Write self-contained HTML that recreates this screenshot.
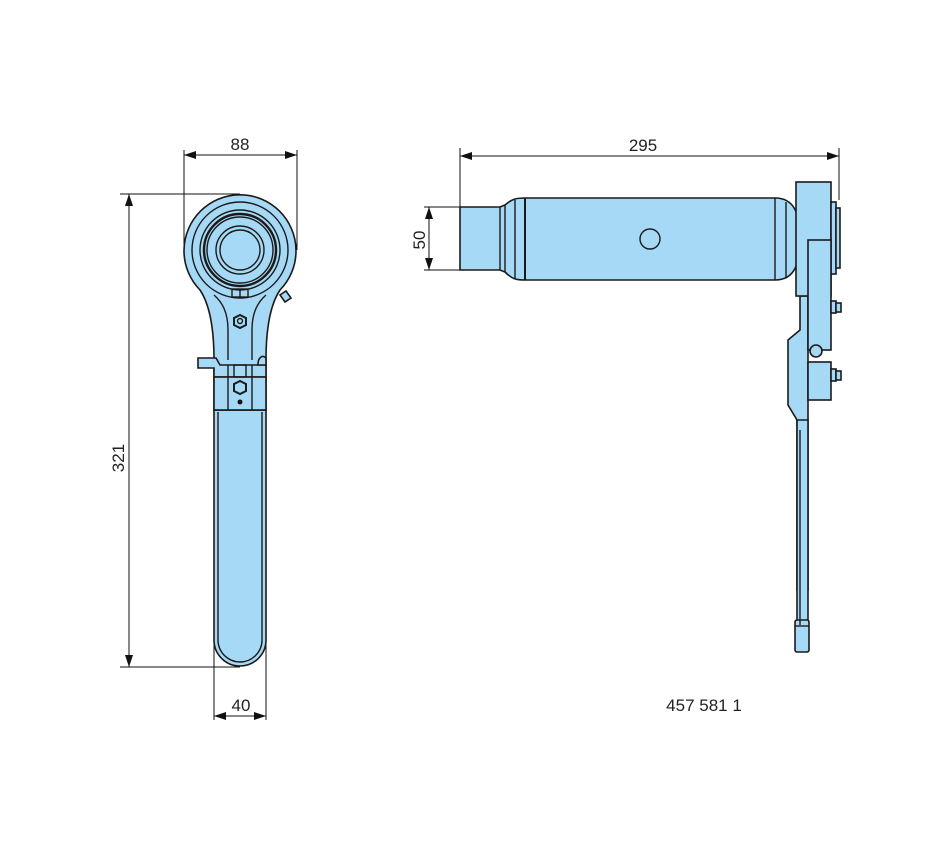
<!DOCTYPE html>
<html><head><style>
body{margin:0;background:#fff}
svg{display:block}
text{font-family:"Liberation Sans",sans-serif;font-size:17px;fill:#222}
.p{fill:#a6d9f5;stroke:#1a1a1a;stroke-width:1.6}
.l{fill:none;stroke:#1a1a1a;stroke-width:1.4}
.d{fill:none;stroke:#111;stroke-width:1}
.a{fill:#111}
</style></head><body>
<svg width="950" height="860" viewBox="0 0 950 860">
<!-- dimension lines front -->
<line class="d" x1="184" y1="150" x2="184" y2="250"/>
<line class="d" x1="297" y1="150" x2="297" y2="250"/>
<line class="d" x1="184" y1="155" x2="297" y2="155"/>
<polygon class="a" points="184,155 196,151 196,159"/><polygon class="a" points="297,155 285,151 285,159"/>
<text x="240" y="150" text-anchor="middle">88</text>
<line class="d" x1="120" y1="194" x2="240" y2="194"/>
<line class="d" x1="120" y1="667" x2="240" y2="667"/>
<line class="d" x1="129" y1="194" x2="129" y2="667"/>
<polygon class="a" points="129,194 125,206 133,206"/><polygon class="a" points="129,667 125,655 133,655"/>
<text transform="translate(124,458) rotate(-90)" text-anchor="middle">321</text>
<line class="d" x1="214" y1="640" x2="214" y2="720"/>
<line class="d" x1="266" y1="640" x2="266" y2="720"/>
<line class="d" x1="214" y1="716" x2="266" y2="716"/>
<polygon class="a" points="214,716 226,712 226,720"/><polygon class="a" points="266,716 254,712 254,720"/>
<text x="241" y="711" text-anchor="middle">40</text>

<!-- front view -->
<path class="p" d="M214,410 L214,640 A26,26 0 0 0 266,640 L266,410 Z"/>
<line class="l" x1="218" y1="412" x2="218" y2="640"/>
<line class="l" x1="262" y1="412" x2="262" y2="640"/>
<path class="l" d="M218,640 A22,22 0 0 0 262,640"/>
<path class="p" d="M200,290 A56,56 0 1 1 280,290 C270,305 266,330 266,360 L266,410 L214,410 L214,360 C214,330 210,305 200,290 Z"/>
<path class="l" d="M228,360 L228,330 C228,312 222,302 214,295"/>
<path class="l" d="M252,360 L252,330 C252,312 258,302 266,295"/>
<circle class="l" cx="240" cy="250" r="48"/>
<circle class="l" cx="240" cy="250" r="40"/>
<circle class="l" cx="240" cy="250" r="36" style="stroke-width:2.4"/>
<circle class="l" cx="240" cy="250" r="33"/>
<circle class="l" cx="240" cy="250" r="24"/>
<circle class="l" cx="240" cy="250" r="20"/>
<rect class="l" x="232" y="289" width="16" height="8"/>
<line class="l" x1="240" y1="289" x2="240" y2="297"/>
<path class="p" d="M280,295 l6,-4 l5,7 l-6,4 z"/>
<polygon class="l" points="240,315 246,318 246,325 240,328 234,325 234,318" style="stroke-width:2"/>
<circle class="l" cx="240" cy="321" r="2.5"/>
<path class="p" d="M198,358 L216,358 L220,365 L266,365 L266,377 L214,377 L214,368 L198,368 Z"/>
<path class="p" d="M258,365 A5,8 0 0 1 266,358 L266,365 Z"/>
<rect class="p" x="214" y="377" width="52" height="33"/>
<line class="l" x1="228" y1="365" x2="228" y2="410"/>
<line class="l" x1="252" y1="365" x2="252" y2="410"/>
<rect class="l" x="234" y="365" width="12" height="12"/>
<polygon class="l" points="240,381 246,384 246,391 240,394 234,391 234,384" style="stroke-width:2"/>
<circle cx="240" cy="402" r="2.5" fill="#111"/>

<!-- side dims -->
<line class="d" x1="460" y1="148" x2="460" y2="208"/>
<line class="d" x1="839" y1="148" x2="839" y2="200"/>
<line class="d" x1="460" y1="156" x2="839" y2="156"/>
<polygon class="a" points="460,156 472,152 472,160"/><polygon class="a" points="839,156 827,152 827,160"/>
<text x="643" y="151" text-anchor="middle">295</text>
<line class="d" x1="424" y1="207" x2="460" y2="207"/>
<line class="d" x1="424" y1="270" x2="460" y2="270"/>
<line class="d" x1="429" y1="207" x2="429" y2="270"/>
<polygon class="a" points="429,207 425,219 433,219"/><polygon class="a" points="429,270 425,258 433,258"/>
<text transform="translate(425,240) rotate(-90)" text-anchor="middle">50</text>
<text x="704" y="711" text-anchor="middle">457 581 1</text>

<!-- side view cylinder -->
<path class="p" d="M460,207 L500,207 L505,205 C512,199 516,198 525,198 L775,198 C795,198 800,215 800,239 C800,263 795,280 775,280 L525,280 C516,280 512,279 505,272 L500,270 L460,270 Z"/>
<line class="l" x1="500" y1="207" x2="500" y2="270"/>
<line class="l" x1="505" y1="205" x2="505" y2="272"/>
<line class="l" x1="515" y1="200" x2="515" y2="279"/>
<line class="l" x1="525" y1="198" x2="525" y2="280" style="stroke-width:2"/>
<line class="l" x1="775" y1="198" x2="775" y2="280"/>
<line class="l" x1="786" y1="202" x2="786" y2="277"/>
<circle class="l" cx="650" cy="239" r="10"/>
<!-- side mechanism -->
<path class="p" d="M797,590 L797,420 L788,405 L788,340 L800,330 L800,296 L808,296 L808,590 Z"/>
<path class="p" d="M797,420 L808,420 L808,650 L797,650 Z"/>
<rect class="p" x="795" y="620" width="14" height="32" rx="2"/>
<line class="l" x1="795" y1="626" x2="809" y2="626"/>
<line class="l" x1="800" y1="430" x2="800" y2="625"/>
<rect class="p" x="796" y="182" width="35" height="114"/>
<rect class="p" x="831" y="202" width="5" height="72"/>
<rect class="p" x="836" y="208" width="4" height="60"/>
<rect class="p" x="808" y="240" width="23" height="110"/>
<rect class="p" x="808" y="362" width="23" height="38"/>
<circle class="p" cx="816" cy="351" r="6"/>
<rect class="p" x="831" y="301" width="5" height="12"/><rect class="p" x="836" y="303" width="5" height="9"/>
<rect class="p" x="831" y="369" width="5" height="12"/><rect class="p" x="836" y="371" width="5" height="9"/>
</svg>
</body></html>
